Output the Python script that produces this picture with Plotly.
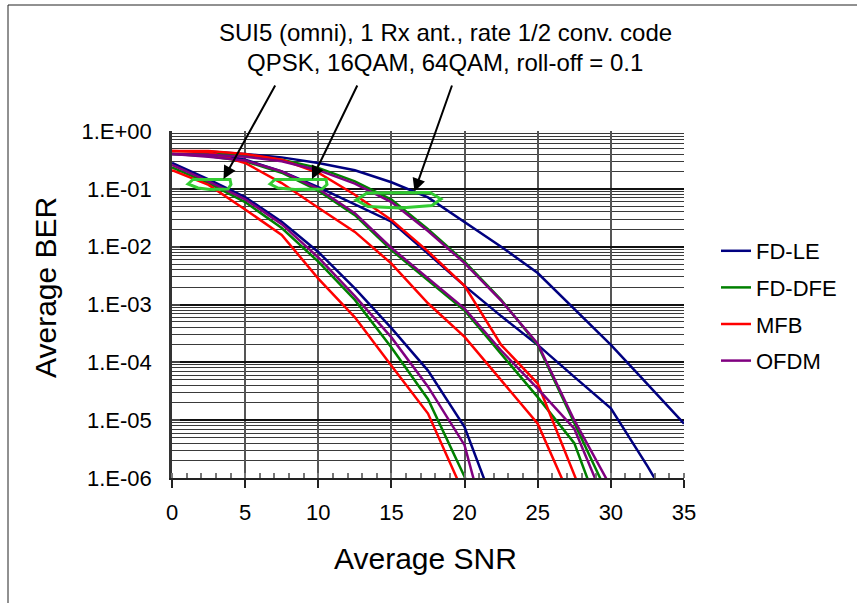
import plotly.graph_objects as go

# ---------------- data ----------------
snr = [0, 2.5, 5, 7.5, 10, 12.5, 15, 17.5, 20, 22.5, 25, 27.5, 30, 32.5, 35]

# QPSK
qpsk_le   = [0.28, 0.145, 0.072, 0.027, 8.1e-3, 1.9e-3, 3.9e-4, 7.2e-5, 7.6e-6, 1.6e-7, None, None, None, None, None]
qpsk_dfe  = [0.235, 0.126, 0.059, 0.021, 5.5e-3, 1.2e-3, 1.8e-4, 2.3e-5, 1.05e-6, 2.5e-8, None, None, None, None, None]
qpsk_mfb  = [0.21, 0.117, 0.044, 0.016, 2.8e-3, 6.0e-4, 8.7e-5, 1.3e-5, 5e-7, None, None, None, None, None, None]
qpsk_ofdm = [0.26, 0.135, 0.066, 0.0245, 6.5e-3, 1.4e-3, 2.7e-4, 3.8e-5, 3.7e-6, 1.6e-8, None, None, None, None, None]

# 16QAM
qam16_le   = [None, 0.43, 0.32, 0.20, 0.107, 0.054, 0.027, 7.6e-3, 2.1e-3, 6.3e-4, 2.0e-4, 5.6e-5, 1.6e-5, 1.6e-6, 1.4e-7]
qam16_dfe  = [0.40, 0.37, 0.30, 0.19, 0.093, 0.035, 8.7e-3, 2.6e-3, 7.9e-4, 1.4e-4, 2.5e-5, 4.0e-6, 8e-8, None, None]
qam16_mfb  = [0.45, 0.43, 0.28, 0.126, 0.047, 0.018, 5.1e-3, 1.05e-3, 2.75e-4, 5e-5, 8.7e-6, 3.2e-7, None, None, None]
qam16_ofdm = [0.40, 0.36, 0.31, 0.20, 0.10, 0.038, 9.5e-3, 2.8e-3, 8.5e-4, 1.6e-4, 3.5e-5, 7.1e-6, 2.2e-7, None, None]

# 64QAM
qam64_le   = [None, 0.44, 0.40, 0.35, 0.28, 0.21, 0.13, 0.071, 0.027, 0.010, 3.5e-3, 8.3e-4, 2.0e-4, 4.2e-5, 8.7e-6]
qam64_dfe  = [0.40, 0.40, 0.38, 0.32, 0.23, 0.135, 0.065, 0.020, 5.5e-3, 1.2e-3, 2.0e-4, 8.9e-6, 4e-7, None, None]
qam64_mfb  = [0.45, 0.45, 0.40, 0.32, 0.19, 0.079, 0.029, 8.3e-3, 2.1e-3, 2.0e-4, 4.3e-5, 1.0e-6, 3e-8, None, None]
qam64_ofdm = [0.40, 0.39, 0.36, 0.30, 0.21, 0.123, 0.059, 0.0186, 5.2e-3, 1.17e-3, 2.1e-4, 1.0e-5, 7e-7, None, None]

schemes = ["FD-LE", "FD-DFE", "MFB", "OFDM"]
colors = {"FD-LE": "#000080", "FD-DFE": "#008000", "MFB": "#FF0000", "OFDM": "#800080"}
series = {
    "FD-LE":  [qpsk_le, qam16_le, qam64_le],
    "FD-DFE": [qpsk_dfe, qam16_dfe, qam64_dfe],
    "MFB":    [qpsk_mfb, qam16_mfb, qam64_mfb],
    "OFDM":   [qpsk_ofdm, qam16_ofdm, qam64_ofdm],
}

ytick_vals = [1, 1e-1, 1e-2, 1e-3, 1e-4, 1e-5, 1e-6]
ytick_text = ["1.E+00", "1.E-01", "1.E-02", "1.E-03", "1.E-04", "1.E-05", "1.E-06"]

title_lines = ["SUI5 (omni), 1 Rx ant., rate 1/2 conv. code",
               "QPSK, 16QAM, 64QAM, roll-off = 0.1"]

FONT = "Liberation Sans, Arial, sans-serif"
W, H = 857, 603
ML, MR, MT, MB = 172, 173, 131, 125
PW, PH = W - ML - MR, H - MT - MB


def pp(X, Y):
    """pixel -> paper coordinates (for decorations only)"""
    return (X - ML) / PW, (H - MB - Y) / PH


fig = go.Figure()
for s in schemes:
    for i, ys in enumerate(series[s]):
        fig.add_trace(go.Scatter(
            x=snr, y=ys, mode="lines", name=s, legendgroup=s,
            showlegend=(i == 0), connectgaps=False,
            line=dict(color=colors[s], width=2.5),
        ))

# axes
minor_y = [k * 10.0 ** e for e in range(-6, 0) for k in range(2, 10)]
fig.update_yaxes(
    type="log", range=[-6, 0], tickvals=ytick_vals, ticktext=ytick_text,
    showgrid=True, gridcolor="#111111", gridwidth=1.5,
    showline=True, linecolor="#333333", linewidth=2.5,
    ticks="inside", ticklen=8, tickwidth=2, tickcolor="#444444",
    tickfont=dict(family=FONT, size=22, color="black"),
    ticklabelstandoff=13,
    minor=dict(tickvals=minor_y, showgrid=True, gridcolor="#3a3a3a", gridwidth=1, ticks=""),
    zeroline=False,
)
fig.update_xaxes(
    range=[0, 35], dtick=5, tick0=0,
    showgrid=True, gridcolor="#555555", gridwidth=1.5,
    showline=True, linecolor="#222222", linewidth=2,
    ticks="outside", ticklen=8, tickwidth=1.5, tickcolor="#222222",
    tickfont=dict(family=FONT, size=22, color="black"),
    ticklabelstandoff=6,
    minor=dict(dtick=1, ticks="inside", ticklen=5, tickwidth=1.5, tickcolor="#777777", showgrid=False),
    zeroline=False,
)

annotations = []
# title text
for txt, Y in zip(title_lines, [33, 63]):
    x, y = pp(445, Y)
    annotations.append(dict(text=txt, x=x, y=y, xref="paper", yref="paper",
                            showarrow=False, xanchor="center", yanchor="middle",
                            font=dict(family=FONT, size=24, color="black")))
# arrows (head, tail) in pixels
for (hx, hy), (tx, ty) in [((223.5, 179), (276, 84)),
                           ((312, 179), (358, 84)),
                           ((414.5, 191.5), (452.5, 84))]:
    x, y = pp(hx, hy)
    annotations.append(dict(text="", x=x, y=y, xref="paper", yref="paper",
                            ax=tx - hx, ay=ty - hy, showarrow=True,
                            arrowhead=2, arrowsize=1.3, arrowwidth=2, arrowcolor="black"))
# axis titles
x, y = pp(425, 558)
annotations.append(dict(text="Average SNR", x=x, y=y, xref="paper", yref="paper", showarrow=False,
                        xanchor="center", yanchor="middle", font=dict(family=FONT, size=30, color="black")))
x, y = pp(45, 288)
annotations.append(dict(text="Average BER", x=x, y=y, xref="paper", yref="paper", showarrow=False,
                        textangle=-90, xanchor="center", yanchor="middle",
                        font=dict(family=FONT, size=30, color="black")))

# green highlight outlines (hexagon-like), pixel vertices
hexes = [
    [(188, 184), (193, 179.5), (230, 179.5), (231, 184.5), (228, 189), (210, 189.5), (198, 188)],
    [(270, 184), (275, 179.5), (326, 179.5), (327, 184.5), (322, 189), (295, 189.5), (278, 188)],
    [(356, 200), (367, 193), (430, 192.5), (441, 199), (432, 205.5), (400, 208), (368, 206.5)],
]
shapes = []
for poly in hexes:
    pts = [pp(X, Y) for X, Y in poly]
    path = "M " + " L ".join(f"{a:.5f},{b:.5f}" for a, b in pts) + " Z"
    shapes.append(dict(type="path", path=path, xref="paper", yref="paper",
                       line=dict(color="#33CC33", width=3)))
# outer frame (top and left edge visible)
x0, y0 = pp(8, 5)
x1, y1 = pp(870, 620)
shapes.append(dict(type="rect", x0=x0, y0=y1, x1=x1, y1=y0, xref="paper", yref="paper",
                   line=dict(color="#222222", width=1)))

lx, ly = pp(716, 230)
fig.update_layout(
    width=W, height=H, margin=dict(l=ML, r=MR, t=MT, b=MB, pad=0),
    paper_bgcolor="white", plot_bgcolor="white",
    annotations=annotations, shapes=shapes,
    legend=dict(x=lx, y=ly, xanchor="left", yanchor="top",
                font=dict(family=FONT, size=22, color="black"),
                traceorder="grouped", tracegroupgap=5, bgcolor="rgba(0,0,0,0)",
                borderwidth=0, itemclick=False, itemdoubleclick=False),
    showlegend=True,
)

fig.write_html("out.html", config={"displayModeBar": False},
               post_script="document.body.style.margin='0';")
